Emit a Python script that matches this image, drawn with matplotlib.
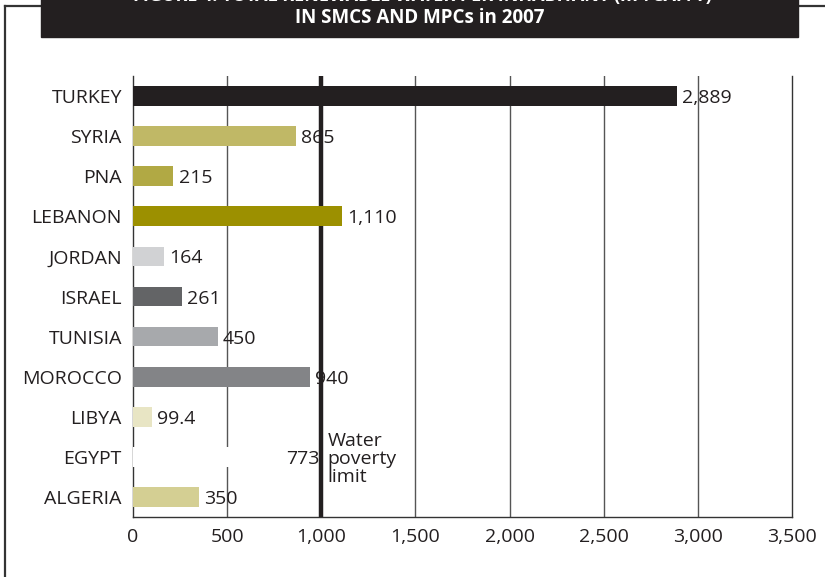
import matplotlib.pyplot as plt
from matplotlib.patches import Rectangle
from matplotlib.lines import Line2D

plt.rcParams['font.family'] = ['Open Sans', 'DejaVu Sans']

# data, top to bottom
countries = ["TURKEY", "SYRIA", "PNA", "LEBANON", "JORDAN", "ISRAEL",
             "TUNISIA", "MOROCCO", "LIBYA", "EGYPT", "ALGERIA"]
values = [2889, 865, 215, 1110, 164, 261, 450, 940, 99.4, 773, 350]
labels = ["2,889", "865", "215", "1,110", "164", "261", "450", "940", "99.4", "773", "350"]
colors = ["#231f20", "#c0b866", "#b1a944", "#9c9000", "#d1d2d4", "#636466",
          "#a7a9ac", "#838487", "#e8e5c4", "#ffffff", "#d4cf93"]
poverty_limit = 1000
xticks = [0, 500, 1000, 1500, 2000, 2500, 3000, 3500]
xticklabels = ["0", "500", "1,000", "1,500", "2,000", "2,500", "3,000", "3,500"]

W, H = 825, 577
fs = 14
fig = plt.figure(figsize=(W / 100, H / 100), dpi=100)

# outer frame (left and top lines)
fig.add_artist(Line2D([5 / W, 5 / W], [0, 1 - 6 / H], color="#333333", lw=1.6,
                      transform=fig.transFigure))
fig.add_artist(Line2D([5 / W, 1], [1 - 6 / H, 1 - 6 / H], color="#333333", lw=1.6,
                      transform=fig.transFigure))

# title band (first line is cut by the top edge, as in the original)
fig.add_artist(Rectangle((41 / W, 1 - 37 / H), (798 - 41) / W, 37 / H + 0.01,
                         transform=fig.transFigure, color="#231f20", zorder=5))
fig.text(422 / W, 1 + 4 / H, "FIGURE 4: TOTAL RENEWABLE WATER PER INHABITANT (m³/CAP/Y)",
         color="white", fontsize=13, fontweight="bold", ha="center", va="center",
         zorder=6)
fig.text(420 / W, 1 - 18 / H, "IN SMCS AND MPCs in 2007", color="white",
         fontsize=13.5, fontweight="bold", ha="center", va="center", zorder=6)

ax = fig.add_axes([133 / W, (H - 517) / H, (792 - 133) / W, (517 - 76) / H])

ypos = list(range(len(countries)))
ax.barh(ypos, values, height=0.49, color=colors, zorder=3)

for y, v, lab in zip(ypos, values, labels):
    if countries[y] == "EGYPT":
        ax.text(poverty_limit - 12, y, lab, ha="right", va="center_baseline",
                fontsize=fs, color="#231f20", zorder=4)
    else:
        ax.text(v + 28, y, lab, ha="left", va="center_baseline", fontsize=fs,
                color="#231f20", zorder=4)

ax.axvline(poverty_limit, color="#231f20", lw=3.2, zorder=2)
ax.text(poverty_limit + 32, ypos[countries.index("EGYPT")] + 0.05,
        "Water\npoverty\nlimit", ha="left", va="center", fontsize=fs,
        color="#231f20", linespacing=1.0, zorder=4)

for x in xticks[1:-1]:
    if x != poverty_limit:
        ax.axvline(x, color="#555555", lw=1.0, zorder=1)

ax.set_xlim(0, 3500)
ax.set_ylim(len(countries) - 0.5, -0.5)
ax.set_xticks(xticks)
ax.set_xticklabels(xticklabels, fontsize=fs, color="#231f20")
ax.set_yticks(ypos)
ax.set_yticklabels(countries, fontsize=fs, color="#231f20",
                   va="center_baseline")
ax.tick_params(axis="both", length=0)
ax.tick_params(axis="x", pad=8)
ax.tick_params(axis="y", pad=8)

for side in ["left", "right", "bottom"]:
    ax.spines[side].set_color("#333333")
    ax.spines[side].set_linewidth(1.0)
ax.spines["top"].set_visible(False)

fig.savefig("out.png", dpi=100)
